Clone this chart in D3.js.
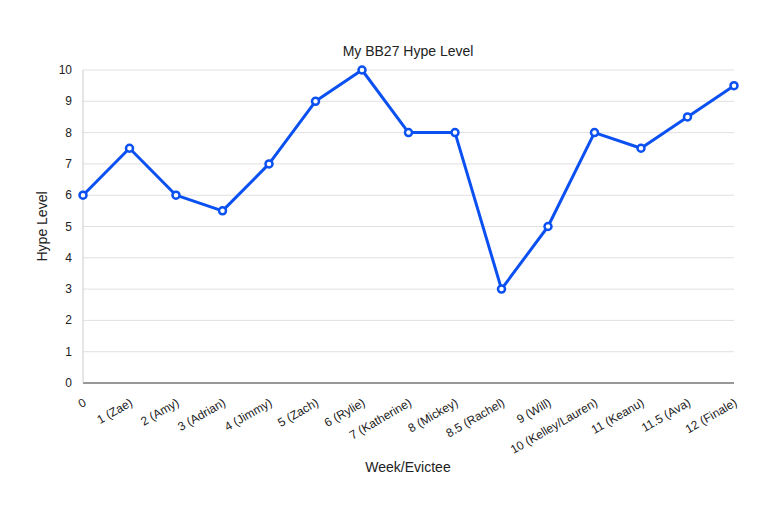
<!DOCTYPE html>
<html lang="en">
<head>
<meta charset="UTF-8">
<title>My BB27 Hype Level</title>
<script src="https://unpkg.com/d3@7.8.5/dist/d3.min.js"></script>
<style>body{margin:0;background:#fff}</style>
</head>
<body>
<svg width="768" height="512"></svg>
<script>
// data
var categories = ['0', '1 (Zae)', '2 (Amy)', '3 (Adrian)', '4 (Jimmy)', '5 (Zach)', '6 (Rylie)', '7 (Katherine)',
  '8 (Mickey)', '8.5 (Rachel)', '9 (Will)', '10 (Kelley/Lauren)', '11 (Keanu)', '11.5 (Ava)', '12 (Finale)']
var hype = [6, 7.5, 6, 5.5, 7, 9, 10, 8, 8, 3, 5, 8, 7.5, 8.5, 9.5]
var yTicks = [0, 1, 2, 3, 4, 5, 6, 7, 8, 9, 10]

var svg = d3.select('svg').style('font-family', 'Arial, "Liberation Sans", sans-serif')
// plot area (window.top is read-only, so avoid that name)
var plotL = 83, plotR = 734, plotT = 70, plotB = 383

var x = d3.scalePoint().domain(categories).range([plotL, plotR])
var y = d3.scaleLinear().domain([0, 10]).range([plotB, plotT])

// grid
svg.append('g').selectAll('line').data(yTicks).enter().append('line')
  .attr('x1', plotL).attr('x2', plotR)
  .attr('y1', d => y(d)).attr('y2', d => y(d))
  .attr('stroke', d => d === 0 ? '#333' : '#e0e0e0').attr('stroke-width', 1)
svg.append('line').attr('x1', plotL).attr('x2', plotL).attr('y1', plotT).attr('y2', plotB).attr('stroke', '#ccc')

// y labels
svg.append('g').selectAll('text').data(yTicks).enter().append('text')
  .attr('x', plotL - 11).attr('y', d => y(d) + 4)
  .attr('text-anchor', 'end').attr('font-size', 12).attr('fill', '#222')
  .text(d => d)

// x labels
svg.append('g').selectAll('text').data(categories).enter().append('text')
  .attr('transform', d => 'translate(' + (x(d) + 4) + ',' + (plotB + 22) + ') rotate(-30)')
  .attr('text-anchor', 'end').attr('font-size', 12).attr('fill', '#222')
  .text(d => d)

// line
var line = d3.line().x((d, i) => x(categories[i])).y(d => y(d))
svg.append('path').datum(hype).attr('d', line)
  .attr('fill', 'none').attr('stroke', '#0b50f0').attr('stroke-width', 3).attr('stroke-linejoin', 'round')
svg.append('g').selectAll('circle').data(hype).enter().append('circle')
  .attr('cx', (d, i) => x(categories[i])).attr('cy', d => y(d)).attr('r', 3.5)
  .attr('fill', '#fff').attr('stroke', '#0b50f0').attr('stroke-width', 2.5)

// titles
svg.append('text').attr('x', 408).attr('y', 56).attr('text-anchor', 'middle')
  .attr('font-size', 14).attr('fill', '#222').text('My BB27 Hype Level')
svg.append('text').attr('x', 408).attr('y', 472).attr('text-anchor', 'middle')
  .attr('font-size', 14).attr('fill', '#222').text('Week/Evictee')
svg.append('text').attr('transform', 'translate(47,' + ((plotT + plotB) / 2) + ') rotate(-90)')
  .attr('text-anchor', 'middle').attr('font-size', 14).attr('fill', '#222').text('Hype Level')
</script>
</body>
</html>
